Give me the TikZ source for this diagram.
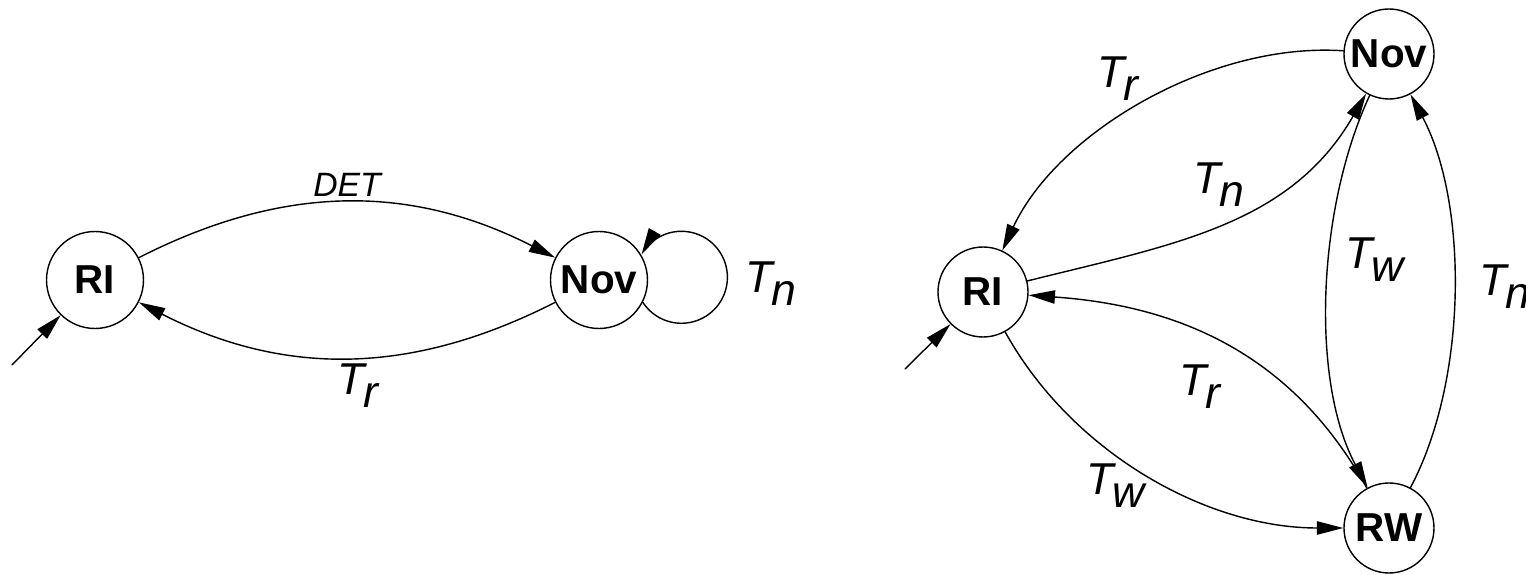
\documentclass[tikz,border=0pt]{standalone}
\usepackage{fontspec}
\setmainfont{Liberation Sans}
\usetikzlibrary{arrows.meta}
\newcommand{\tsub}[2]{\textit{#1\kern-0.3pt\raisebox{-0.55ex}{#2}}}

\begin{document}
\begin{tikzpicture}[>={Triangle[length=7.5pt,width=3.8pt]},line join=round,line cap=round,line width=0.4pt,
	state/.style={draw,circle,minimum size=0.9cm,inner sep=0pt,font=\fontsize{11.5}{13}\selectfont\bfseries},
	lbl/.style={inner sep=0pt,font=\fontsize{12.7}{15}\selectfont}]
		\useasboundingbox (0,0) rectangle (15.26,5.74);
		\node[state,minimum size=0.97cm] (ri1) at (0.95,2.94) {RI};
		\node[state,minimum size=0.97cm] (nov1) at (5.99,2.94) {Nov};
		\coordinate (init1) at (0.12,2.09);
		\draw[->] (init1)--(ri1);
		\draw[->] (ri1) to[bend left=27] (nov1);
		\draw[->] (nov1) to[bend left=27] (ri1);
		\draw[->] (nov1.-27.5) arc[start angle=-147,end angle=150,radius=0.46];
		\node[lbl,font=\fontsize{9.6}{11}\selectfont\itshape] (det) at (3.47,3.89) {DET};
		\node[lbl] (tr1) at (3.58,1.88) {\tsub{T}{r}};
		\node[lbl] (tn1) at (7.71,2.90) {\tsub{T}{n}};
		
		\node[state] (ri2) at (9.83,2.82) {RI};
		\node[state] (nov2) at (13.89,5.20) {Nov};
		\node[state] (rw2) at (13.89,0.46) {RW};
		\coordinate (init2) at (9.05,2.05);
		\draw[->] (init2)--(ri2);
		\draw[->] (nov2) to[out=176,in=65,looseness=0.85] (ri2);
		\draw[->] (ri2) to[out=14,in=240] (nov2);
		\draw[->] (nov2) to[out=245,in=118,looseness=0.8] (rw2);
		\draw[->] (rw2) to[out=62,in=-62,looseness=0.8] (nov2);
		\draw[->] (rw2) to[out=119,in=-4] (ri2);
		\draw[->] (ri2) to[out=-61,in=180,looseness=0.9] (rw2);
		\node[lbl] (tr2) at (11.18,4.95) {\tsub{T}{r}};
		\node[lbl] (tn2) at (12.19,3.89) {\tsub{T}{n}};
		\node[lbl] (tw2) at (13.75,3.14) {\tsub{T}{w}};
		\node[lbl] (tn3) at (15.05,2.87) {\tsub{T}{n}};
		\node[lbl] (tr3) at (12.00,1.87) {\tsub{T}{r}};
		\node[lbl] (tw3) at (11.16,0.88) {\tsub{T}{w}};
		\end{tikzpicture}
\end{document}
